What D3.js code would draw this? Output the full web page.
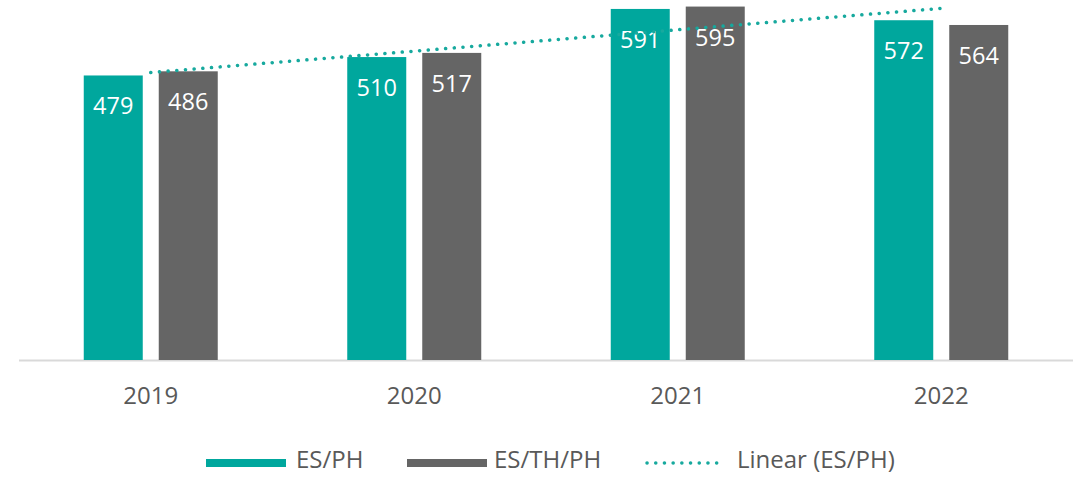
<!DOCTYPE html>
<html>
<head>
<meta charset="utf-8">
<script src="https://cdn.jsdelivr.net/npm/d3@7"></script>
<style>
  body { margin: 0; background: #fff; }
  svg text { font-family: "Open Sans", "Liberation Sans", sans-serif; }
</style>
</head>
<body>
<div id="chart"></div>
<script>
const years = ["2019", "2020", "2021", "2022"];
const seriesNames = ["ES/PH", "ES/TH/PH"];
const esPh = [479, 510, 591, 572];
const esThPh = [486, 517, 595, 564];
const colors = ["#00A79D", "#656565"];
const trendColor = "#17A99E";

const width = 1082, height = 477;

const svg = d3.select("#chart").append("svg")
  .attr("width", width)
  .attr("height", height);

const x = d3.scaleBand().domain(years).range([19, 1073]).paddingInner(0);
// two bars 59px wide with a 16px gap
const inner = d3.scaleBand().domain(seriesNames).range([0, 134]).paddingInner(16 / 75);
const y = d3.scaleLinear().domain([0, 600]).range([360, 3.6]);

const groupOffset = (x.bandwidth() - 134) / 2;

// baseline
svg.append("line")
  .attr("x1", 19).attr("x2", 1073)
  .attr("y1", 360.5).attr("y2", 360.5)
  .attr("stroke", "#d9d9d9")
  .attr("stroke-width", 2);

const rows = years.map((yr, i) => ({ year: yr, values: [esPh[i], esThPh[i]] }));

const groups = svg.selectAll(".grp")
  .data(rows)
  .enter()
  .append("g")
  .attr("transform", d => `translate(${x(d.year) + groupOffset},0)`);

groups.selectAll("rect")
  .data(d => d.values.map((v, j) => ({ name: seriesNames[j], v, j })))
  .enter()
  .append("rect")
  .attr("x", d => inner(d.name))
  .attr("width", inner.bandwidth())
  .attr("y", d => y(d.v))
  .attr("height", d => y(0) - y(d.v))
  .attr("fill", d => colors[d.j]);

groups.selectAll("text")
  .data(d => d.values.map((v, j) => ({ name: seriesNames[j], v, j })))
  .enter()
  .append("text")
  .attr("x", d => inner(d.name) + inner.bandwidth() / 2)
  .attr("y", d => y(d.v) + 39)
  .attr("text-anchor", "middle")
  .attr("fill", "#fff")
  .style("font-size", "23.5px")
  .text(d => d.v);

// linear trendline for ES/PH
const n = esPh.length;
const mx = d3.mean(d3.range(n));
const my = d3.mean(esPh);
const slope = d3.sum(esPh, (v, i) => (i - mx) * (v - my)) / d3.sum(d3.range(n), i => (i - mx) ** 2);
const icpt = my - slope * mx;
const trend = years.map((yr, i) => ({ year: yr, v: icpt + slope * i }));

svg.append("path")
  .datum(trend)
  .attr("d", d3.line().x(d => x(d.year) + x.bandwidth() / 2).y(d => y(d.v)))
  .attr("fill", "none")
  .attr("stroke", trendColor)
  .attr("stroke-width", 3.5)
  .attr("stroke-linecap", "round")
  .attr("stroke-dasharray", "0.1 8.6");

// x axis labels
const xAxis = svg.append("g")
  .attr("transform", "translate(0,360)")
  .call(d3.axisBottom(x).tickSize(0).tickPadding(27));
xAxis.select(".domain").remove();
xAxis.selectAll("text")
  .attr("fill", "#595959")
  .style("font-size", "24px")
  .style("font-family", "'Open Sans', sans-serif");

// legend
const legend = svg.append("g");
const legendItems = [
  { label: "ES/PH", type: "bar", color: colors[0], x: 206, tx: 296 },
  { label: "ES/TH/PH", type: "bar", color: colors[1], x: 407, tx: 494 },
  { label: "Linear (ES/PH)", type: "line", color: trendColor, x: 646, tx: 737 }
];
legendItems.forEach(it => {
  if (it.type === "bar") {
    legend.append("rect")
      .attr("x", it.x).attr("y", 459)
      .attr("width", 80).attr("height", 8)
      .attr("fill", it.color);
  } else {
    legend.append("line")
      .attr("x1", it.x + 1).attr("x2", it.x + 76)
      .attr("y1", 463).attr("y2", 463)
      .attr("stroke", it.color)
      .attr("stroke-width", 3.5)
      .attr("stroke-linecap", "round")
      .attr("stroke-dasharray", "0.1 8.6");
  }
  legend.append("text")
    .attr("x", it.tx).attr("y", 468)
    .attr("fill", "#595959")
    .style("font-size", "24px")
    .text(it.label);
});
</script>
</body>
</html>
